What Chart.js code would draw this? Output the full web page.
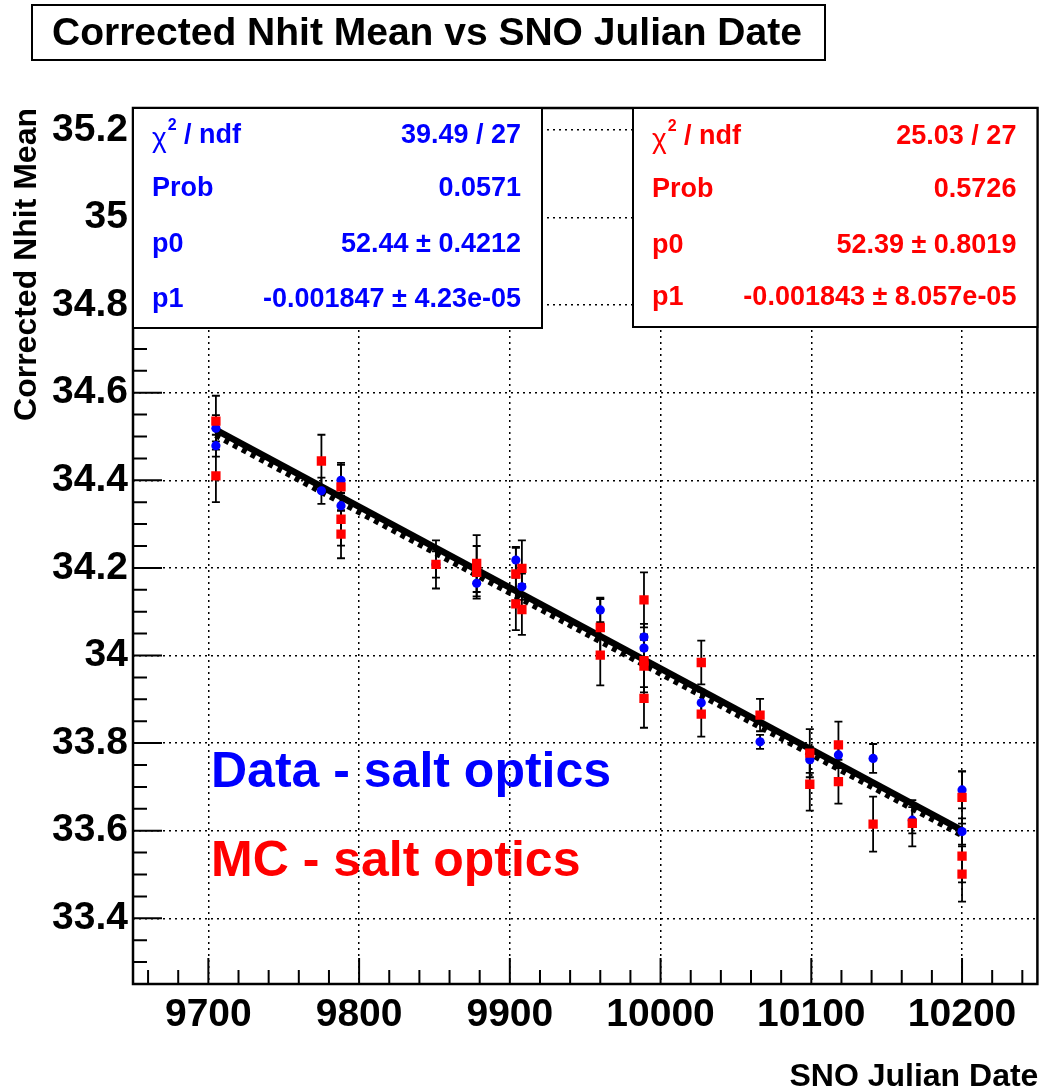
<!DOCTYPE html>
<html>
<head>
<meta charset="utf-8">
<script src="https://cdn.jsdelivr.net/npm/chart.js@4"></script>
<style>
  body { margin: 0; background: #fff; }
  #wrap { width: 1044px; height: 1091px; }
</style>
</head>
<body>
<div id="wrap"><canvas id="grafico" width="1044" height="1091"></canvas></div>
<script>
// tick labels
const xTicks = [9700, 9800, 9900, 10000, 10100, 10200];
const yTicks = [33.4, 33.6, 33.8, 34, 34.2, 34.4, 34.6, 34.8, 35, 35.2];

// Data - salt optics (blue)
const dataDate = [9705, 9705, 9775, 9788, 9788, 9851, 9878, 9904, 9908, 9960, 9989, 9989, 10027, 10066, 10099, 10118, 10141, 10167, 10200, 10200];
const dataMean = [34.479, 34.519, 34.376, 34.400, 34.342, 34.208, 34.165, 34.218, 34.157, 34.104, 34.042, 34.017, 33.892, 33.803, 33.762, 33.773, 33.765, 33.624, 33.693, 33.598];
const dataErr  = [0.025, 0.03, 0.03, 0.035, 0.03, 0.03, 0.03, 0.03, 0.03, 0.028, 0.03, 0.03, 0.03, 0.016, 0.03, 0.03, 0.033, 0.03, 0.042, 0.03];

// MC - salt optics (red)
const mcDate = [9705, 9705, 9775, 9788, 9788, 9788, 9851, 9878, 9878, 9904, 9904, 9908, 9908, 9960, 9960, 9989, 9989, 9989, 9989, 10027, 10027, 10066, 10099, 10099, 10118, 10118, 10141, 10167, 10200, 10200, 10200];
const mcMean = [34.535, 34.410, 34.444, 34.385, 34.311, 34.277, 34.208, 34.210, 34.190, 34.186, 34.118, 34.199, 34.105, 34.064, 34.001, 34.127, 33.988, 33.976, 33.902, 33.984, 33.866, 33.864, 33.777, 33.706, 33.796, 33.712, 33.615, 33.617, 33.676, 33.542, 33.501];
const mcErr  = [0.058, 0.06, 0.06, 0.055, 0.06, 0.055, 0.055, 0.065, 0.06, 0.06, 0.06, 0.064, 0.058, 0.065, 0.069, 0.063, 0.06, 0.06, 0.067, 0.05, 0.051, 0.037, 0.055, 0.06, 0.053, 0.05, 0.063, 0.053, 0.06, 0.06, 0.063];

// fit line end points
const fitDate = [9705, 10200];
const dataFit = [34.515, 33.601];
const mcFit   = [34.504, 33.591];

const dataStats = [['χ2 / ndf', '39.49 / 27'], ['Prob', '0.0571'], ['p0', '52.44 ± 0.4212'], ['p1', '-0.001847 ± 4.23e-05']];
const mcStats   = [['χ2 / ndf', '25.03 / 27'], ['Prob', '0.5726'], ['p0', '52.39 ± 0.8019'], ['p1', '-0.001843 ± 8.057e-05']];

const FONT = "'Liberation Sans', Arial, Helvetica, sans-serif";

function pts(xs, ys) {
  return xs.map((x, i) => ({ x: x, y: ys[i] }));
}

function drawErrors(ctx, sx, sy, xs, ys, es) {
  for (let i = 0; i < xs.length; i++) {
    const px = sx.getPixelForValue(xs[i]);
    const y1 = sy.getPixelForValue(ys[i] + es[i]);
    const y2 = sy.getPixelForValue(ys[i] - es[i]);
    ctx.beginPath();
    ctx.moveTo(px, y1); ctx.lineTo(px, y2);
    ctx.moveTo(px - 4, y1); ctx.lineTo(px + 4, y1);
    ctx.moveTo(px - 4, y2); ctx.lineTo(px + 4, y2);
    ctx.stroke();
  }
}

function drawStatBox(ctx, x0, y0, x1, y1, rows, color, rowY) {
  ctx.fillStyle = '#fff';
  ctx.fillRect(x0, y0, x1 - x0, y1 - y0);
  ctx.strokeStyle = '#000';
  ctx.lineWidth = 2;
  ctx.strokeRect(x0, y0, x1 - x0, y1 - y0);
  ctx.fillStyle = color;
  ctx.textBaseline = 'middle';
  rows.forEach((r, i) => {
    const y = rowY[i];
    ctx.textAlign = 'left';
    if (r[0].startsWith('χ')) {
      ctx.font = '28px ' + FONT;
      ctx.fillText('χ', x0 + 19, y + 3);
      let w = ctx.measureText('χ').width;
      ctx.font = 'bold 16px ' + FONT;
      ctx.fillText('2', x0 + 19 + w + 1, y - 10);
      w += ctx.measureText('2').width + 1;
      ctx.font = 'bold 27px ' + FONT;
      ctx.fillText(' / ndf', x0 + 19 + w, y);
    } else {
      ctx.font = 'bold 27px ' + FONT;
      ctx.fillText(r[0], x0 + 19, y);
    }
    ctx.font = 'bold 27px ' + FONT;
    ctx.textAlign = 'right';
    ctx.fillText(r[1], x1 - 21, y);
  });
}

const rootDecor = {
  id: 'rootDecor',
  beforeDatasetsDraw(chart) {
    const ctx = chart.ctx;
    const sx = chart.scales.x, sy = chart.scales.y;
    ctx.save();
    ctx.strokeStyle = '#000';
    ctx.lineWidth = 1.8;
    drawErrors(ctx, sx, sy, dataDate, dataMean, dataErr);
    drawErrors(ctx, sx, sy, mcDate, mcMean, mcErr);
    ctx.restore();
  },
  afterDraw(chart) {
    const ctx = chart.ctx;
    const a = chart.chartArea;
    const sx = chart.scales.x, sy = chart.scales.y;
    ctx.save();

    // inner ticks on left and bottom
    ctx.strokeStyle = '#000';
    ctx.lineWidth = 2;
    ctx.beginPath();
    for (let v = 9660; v <= 10240; v += 20) {
      const px = sx.getPixelForValue(v);
      const len = xTicks.includes(v) ? 26 : 14;
      ctx.moveTo(px, a.bottom); ctx.lineTo(px, a.bottom - len);
    }
    for (let k = 0; k <= 40; k++) {
      const v = 33.25 + k * 0.05;
      const py = sy.getPixelForValue(v);
      const major = yTicks.some(t => Math.abs(t - v) < 1e-6);
      ctx.moveTo(a.left, py); ctx.lineTo(a.left + (major ? 29 : 14), py);
    }
    ctx.stroke();

    // frame
    ctx.lineWidth = 2.5;
    ctx.strokeRect(a.left, a.top, a.right - a.left, a.bottom - a.top);

    // stat boxes
    drawStatBox(ctx, a.left, a.top, 542, 328, dataStats, '#0000ff', [136, 189, 245, 300]);
    drawStatBox(ctx, 633, a.top, a.right, 327, mcStats, '#ff0000', [137, 190, 246, 298]);

    // title box
    ctx.fillStyle = '#fff';
    ctx.fillRect(32, 5, 793, 55);
    ctx.lineWidth = 2;
    ctx.strokeRect(32, 5, 793, 55);
    ctx.fillStyle = '#000';
    ctx.font = 'bold 39px ' + FONT;
    ctx.textAlign = 'left';
    ctx.textBaseline = 'alphabetic';
    ctx.fillText('Corrected Nhit Mean vs SNO Julian Date', 52, 45);

    // axis titles
    ctx.font = 'bold 32px ' + FONT;
    ctx.textAlign = 'right';
    ctx.fillText('SNO Julian Date', a.right + 1, 1086);
    ctx.save();
    ctx.translate(36, a.top);
    ctx.rotate(-Math.PI / 2);
    ctx.font = 'bold 32px ' + FONT;
    ctx.textAlign = 'right';
    ctx.fillText('Corrected Nhit Mean', 0, 0);
    ctx.restore();

    // labels
    ctx.textAlign = 'left';
    ctx.font = 'bold 50px ' + FONT;
    ctx.fillStyle = '#0000ff';
    ctx.fillText('Data - salt optics', 211, 787);
    ctx.fillStyle = '#ff0000';
    ctx.fillText('MC - salt optics', 211, 876);

    ctx.restore();
  }
};

const canvas = document.getElementById('grafico');
const ctx = canvas.getContext('2d');

new Chart(ctx, {
  type: 'scatter',
  data: {
    datasets: [
      {
        label: 'MC fit',
        type: 'line',
        data: pts(fitDate, mcFit),
        borderColor: '#000',
        borderWidth: 7,
        borderDash: [5, 5],
        borderCapStyle: 'butt',
        pointRadius: 0,
        showLine: true,
        fill: false,
        order: 4
      },
      {
        label: 'Data fit',
        type: 'line',
        data: pts(fitDate, dataFit),
        borderColor: '#000',
        borderWidth: 6.5,
        pointRadius: 0,
        showLine: true,
        fill: false,
        order: 3
      },
      {
        label: 'Data - salt optics',
        data: pts(dataDate, dataMean),
        pointStyle: 'circle',
        pointRadius: 4.6,
        backgroundColor: '#0000ff',
        borderWidth: 0,
        order: 2
      },
      {
        label: 'MC - salt optics',
        data: pts(mcDate, mcMean),
        pointStyle: 'rect',
        pointRadius: 6.6,
        backgroundColor: '#ff0000',
        borderWidth: 0,
        order: 1
      }
    ]
  },
  options: {
    responsive: false,
    animation: false,
    events: [],
    layout: { padding: { left: 0, top: 108, right: 4, bottom: 0 } },
    plugins: {
      legend: { display: false },
      tooltip: { enabled: false }
    },
    scales: {
      x: {
        type: 'linear',
        min: 9650,
        max: 10250,
        afterBuildTicks: s => { s.ticks = xTicks.map(v => ({ value: v })); },
        afterFit: s => { s.height = 107; },
        grid: { color: '#000', lineWidth: 1.5, drawTicks: false },
        border: { display: false, dash: [2, 4] },
        ticks: {
          padding: 8,
          maxRotation: 0,
          color: '#000',
          font: { family: FONT, size: 39, weight: 'bold' },
          callback: v => String(v)
        }
      },
      y: {
        type: 'linear',
        min: 33.25,
        max: 35.25,
        afterBuildTicks: s => { s.ticks = yTicks.map(v => ({ value: v })); },
        afterFit: s => { s.width = 133; },
        grid: { color: '#000', lineWidth: 1.5, drawTicks: false },
        border: { display: false, dash: [2, 4] },
        ticks: {
          padding: 5,
          color: '#000',
          font: { family: FONT, size: 39, weight: 'bold' },
          callback: v => String(+v.toFixed(1))
        }
      }
    }
  },
  plugins: [rootDecor]
});
</script>
</body>
</html>
